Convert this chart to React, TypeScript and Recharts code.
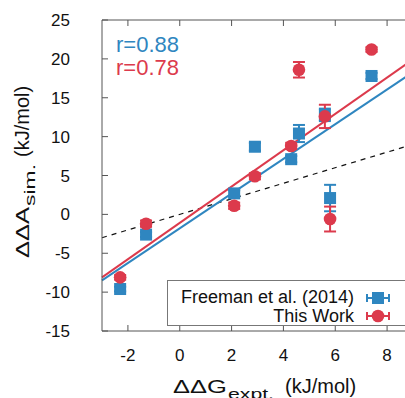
import React from 'react';
import {
  ScatterChart,
  Scatter,
  XAxis,
  YAxis,
  ErrorBar,
  ReferenceLine,
  Legend,
  Label,
} from 'recharts';

const BLUE = '#2f86c0';
const RED = '#dc3a4c';
const FRAME = '#555';
const FONT = "'Liberation Sans', Arial, sans-serif";

// experimental values (x) shared by both series
const exptValues = [-2.3, -1.3, 2.1, 2.9, 4.3, 4.6, 5.6, 5.8, 7.4];
const freemanValues = [-9.6, -2.6, 2.7, 8.7, 7.1, 10.4, 12.8, 2.1, 17.8];
const freemanErrors = [0.3, 0.3, 0.4, 0.5, 0.4, 1.1, 0.8, 1.7, 0.4];
const thisWorkValues = [-8.1, -1.2, 1.1, 4.9, 8.8, 18.6, 12.6, -0.6, 21.2];
const thisWorkErrors = [0.3, 0.4, 0.4, 0.4, 0.4, 1.0, 1.5, 1.6, 0.3];

// linear fits: [slope, intercept]
const freemanFit = [2.233, -1.8];
const thisWorkFit = [2.335, -1.09];

const xTicks = [-2, 0, 2, 4, 6, 8];
const yTicks = [-15, -10, -5, 0, 5, 10, 15, 20, 25];
const xDomain = [-3, 9];
const yDomain = [-15, 25];

const freemanData = exptValues.map((x, i) => ({ x, y: freemanValues[i], err: freemanErrors[i] }));
const thisWorkData = exptValues.map((x, i) => ({ x, y: thisWorkValues[i], err: thisWorkErrors[i] }));

const fitSegment = (fit: number[]) =>
  xDomain.map((x) => ({ x, y: fit[0] * x + fit[1] }));

const BottomTick = ({ x, y, payload }: any) => (
  <g>
    <line x1={x} x2={x} y1={y} y2={y - 6} stroke={FRAME} />
    <text x={x} y={y + 30} textAnchor="middle" fontSize={17} fontFamily={FONT} fill="#111">
      {payload.value}
    </text>
  </g>
);

const TopTick = ({ x, y }: any) => (
  <line x1={x} x2={x} y1={y} y2={y + 6} stroke={FRAME} />
);

const LeftTick = ({ x, y, payload }: any) => (
  <g>
    <line x1={x} x2={x + 6} y1={y} y2={y} stroke={FRAME} />
    <text x={x - 32} y={y + 6} textAnchor="end" fontSize={17} fontFamily={FONT} fill="#111">
      {payload.value}
    </text>
  </g>
);

const SquareDot = ({ cx, cy }: any) => (
  <rect x={cx - 6} y={cy - 6} width={12} height={12} fill={BLUE} />
);

const RoundDot = ({ cx, cy }: any) => <circle cx={cx} cy={cy} r={6.3} fill={RED} />;

// axis title drawn in three pieces: symbol, subscript, unit
const AxisTitle = ({ transform, main, sub, parts }: any) => (
  <g transform={transform} fontFamily={FONT} fill="#111">
    <text x={0} y={0} fontSize={19} textLength={parts[0]} lengthAdjust="spacingAndGlyphs">{main}</text>
    <text x={parts[0] + 1} y={6} fontSize={15} textLength={parts[1]} lengthAdjust="spacingAndGlyphs">{sub}</text>
    <text x={parts[2]} y={0} fontSize={20}>(kJ/mol)</text>
  </g>
);

const legendRows = [
  { name: 'Freeman et al. (2014)', color: BLUE, square: true },
  { name: 'This Work', color: RED, square: false },
];

const LegendBox = () => (
  <div
    style={{
      width: 250,
      height: 46,
      border: '1px solid #777',
      background: '#fff',
      boxSizing: 'border-box',
      position: 'relative',
      fontFamily: FONT,
      fontSize: 18,
      color: '#111',
    }}
  >
    {legendRows.map((row, i) => (
      <div
        key={row.name}
        style={{ position: 'absolute', top: 7 + i * 18.5, left: 0, height: 19, display: 'flex', alignItems: 'center' }}
      >
        <span style={{ width: 186, textAlign: 'right', lineHeight: '19px' }}>{row.name}</span>
        <svg width={28} height={16} style={{ marginLeft: 10 }}>
          <line x1={3} x2={25} y1={8} y2={8} stroke={row.color} strokeWidth={2} />
          <line x1={3} x2={3} y1={4} y2={12} stroke={row.color} strokeWidth={2} />
          <line x1={25} x2={25} y1={4} y2={12} stroke={row.color} strokeWidth={2} />
          {row.square ? (
            <rect x={8} y={2} width={12} height={12} fill={row.color} />
          ) : (
            <circle cx={14} cy={8} r={6.3} fill={row.color} />
          )}
        </svg>
      </div>
    ))}
  </div>
);

export default function App() {
  return (
    <div style={{ position: 'absolute', left: 0, top: 0, width: 405, height: 398, overflow: 'hidden', background: '#fff' }}>
      <ScatterChart width={416} height={398} margin={{ top: 10, right: 3, bottom: 37, left: 42 }}>
        <XAxis
          type="number"
          dataKey="x"
          domain={xDomain}
          ticks={xTicks}
          allowDataOverflow
          tickSize={0}
          tickMargin={0}
          tick={<BottomTick />}
          stroke={FRAME}
          height={30}
        >
          <Label
            content={() => (
              <AxisTitle transform="translate(173,393)" main="ΔΔG" sub="expt." parts={[54, 46, 112]} />
            )}
          />
        </XAxis>
        <XAxis
          xAxisId="top"
          orientation="top"
          type="number"
          dataKey="x"
          domain={xDomain}
          ticks={xTicks}
          allowDataOverflow
          tickSize={0}
          tickMargin={0}
          tick={<TopTick />}
          stroke={FRAME}
          height={10}
        />
        <YAxis
          type="number"
          dataKey="y"
          domain={yDomain}
          ticks={yTicks}
          allowDataOverflow
          tickSize={0}
          tickMargin={0}
          tick={<LeftTick />}
          stroke={FRAME}
          width={60}
        >
          <Label
            content={() => (
              <AxisTitle transform="translate(29,258) rotate(-90)" main="ΔΔA" sub="sim." parts={[51, 42, 101]} />
            )}
          />
        </YAxis>
        <ReferenceLine
          segment={xDomain.map((x) => ({ x, y: x }))}
          stroke="#111"
          strokeWidth={1.2}
          strokeDasharray="5 5"
        />
        <ReferenceLine segment={fitSegment(freemanFit)} stroke={BLUE} strokeWidth={2} />
        <ReferenceLine segment={fitSegment(thisWorkFit)} stroke={RED} strokeWidth={2} />
        <Scatter name="Freeman et al. (2014)" data={freemanData} fill={BLUE} shape={<SquareDot />} isAnimationActive={false}>
          <ErrorBar dataKey="err" direction="y" width={6} stroke={BLUE} strokeWidth={2} />
        </Scatter>
        <Scatter name="This Work" data={thisWorkData} fill={RED} shape={<RoundDot />} isAnimationActive={false}>
          <ErrorBar dataKey="err" direction="y" width={6} stroke={RED} strokeWidth={2} />
        </Scatter>
        <Legend
          layout="vertical"
          align="center"
          verticalAlign="middle"
          content={<LegendBox />}
          wrapperStyle={{ left: 167, top: 280, width: 250, height: 46 }}
        />
        <text x={116} y={52} fontSize={22} fontFamily={FONT} fill={BLUE}>r=0.88</text>
        <text x={116} y={75} fontSize={22} fontFamily={FONT} fill={RED}>r=0.78</text>
      </ScatterChart>
    </div>
  );
}
